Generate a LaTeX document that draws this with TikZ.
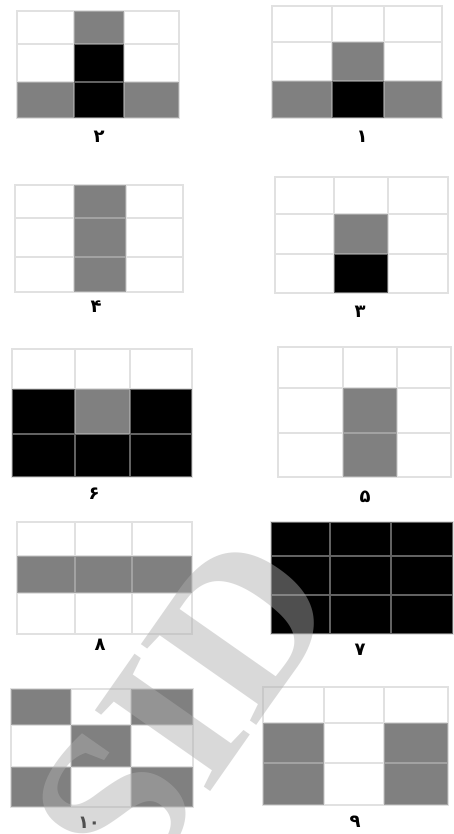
\documentclass[tikz,border=0pt]{standalone}
\usepackage{fontspec}
\newfontfamily\fadigits[Script=Arabic]{DejaVu Sans}
\newfontfamily\wmfont{Liberation Serif}
\TeXXeTstate=1
\definecolor{cg}{gray}{0.5}
\definecolor{gl}{gray}{0.77}
\definecolor{wm}{gray}{0.68}
\tikzset{
  gline/.style={draw=gl, line width=1.1pt, opacity=0.5},
  numlabel/.style={font=\fadigits\bfseries\fontsize{18}{18}\selectfont, inner sep=0pt},
}
\newcommand\mygrid[3]{%
  \def\xs{{#1}}\def\ys{{#2}}%
  \foreach \c/\r/\col in {#3} {%
    \pgfmathsetmacro\xl{\xs[\c-1]}\pgfmathsetmacro\xr{\xs[\c]}%
    \pgfmathsetmacro\yt{\ys[\r-1]}\pgfmathsetmacro\yb{\ys[\r]}%
    \fill[\col] (\xl,\yt) rectangle (\xr,\yb);
  }%
  \pgfmathsetmacro\xa{\xs[0]}\pgfmathsetmacro\xb{\xs[1]}\pgfmathsetmacro\xc{\xs[2]}\pgfmathsetmacro\xd{\xs[3]}%
  \pgfmathsetmacro\ya{\ys[0]}\pgfmathsetmacro\yb{\ys[1]}\pgfmathsetmacro\yc{\ys[2]}\pgfmathsetmacro\yd{\ys[3]}%
  \draw[gline] (\xa,\ya) rectangle (\xd,\yd)
     (\xb,\ya) -- (\xb,\yd) (\xc,\ya) -- (\xc,\yd)
     (\xa,\yb) -- (\xd,\yb) (\xa,\yc) -- (\xd,\yc);
}
\begin{document}
\begin{tikzpicture}[x=1pt,y=-1pt]
\useasboundingbox[fill=white] (0,0) rectangle (454,834);
% row 1
\mygrid{17,74,124,179}{11,44,82,118}{2/1/cg,2/2/black,1/3/cg,2/3/black,3/3/cg}
\node[numlabel] (l2) at (99,137) {\beginR ۲\endR};
\mygrid{272,332,384,442}{6,42,81,118}{2/2/cg,1/3/cg,2/3/black,3/3/cg}
\node[numlabel] (l1) at (362,137) {\beginR ۱\endR};
% row 2
\mygrid{15,74,126,183}{185,218,257,292}{2/1/cg,2/2/cg,2/3/cg}
\node[numlabel] (l4) at (96,307) {\beginR ۴\endR};
\mygrid{275,334,388,448}{177,214,254,293}{2/2/cg,2/3/black}
\node[numlabel] (l3) at (360,312) {\beginR ۳\endR};
% row 3
\mygrid{12,75,130,192}{349,389,434,477}{1/2/black,2/2/cg,3/2/black,1/3/black,2/3/black,3/3/black}
\node[numlabel] (l6) at (94,494) {\beginR ۶\endR};
\mygrid{278,343,397,451}{347,388,433,477}{2/2/cg,2/3/cg}
\node[numlabel] (l5) at (365,497) {\beginR ۵\endR};
% row 4
\mygrid{17,75,132,192}{522,556,593,634}{1/2/cg,2/2/cg,3/2/cg}
\node[numlabel] (l8) at (100,645) {\beginR ۸\endR};
\mygrid{271,330,391,453}{522,556,595,634}{1/1/black,2/1/black,3/1/black,1/2/black,2/2/black,3/2/black,1/3/black,2/3/black,3/3/black}
\node[numlabel] (l7) at (360,650) {\beginR ۷\endR};
% row 5
\mygrid{11,71,131,193}{689,725,767,807}{1/1/cg,3/1/cg,2/2/cg,1/3/cg,3/3/cg}
\node[numlabel] (l10) at (89,823) {\beginR ۱۰\endR};
\mygrid{263,324,384,448}{687,723,763,805}{1/2/cg,1/3/cg,3/2/cg,3/3/cg}
\node[numlabel] (l9) at (355,822) {\beginR ۹\endR};
% watermark
\begin{scope}
\clip (0,0) rectangle (454,834);
\node[rotate=55, text=wm, text opacity=0.46, font=\wmfont\bfseries\fontsize{215}{215}\selectfont, inner sep=0pt] (wm) at (183,708) {SID};
\end{scope}
\end{tikzpicture}
\end{document}
